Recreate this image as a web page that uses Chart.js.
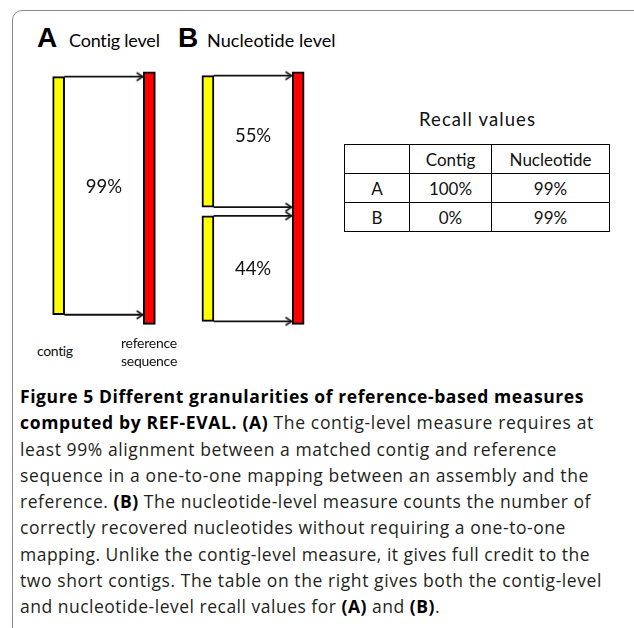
<!DOCTYPE html>
<html lang="en">
<head>
<meta charset="UTF-8">
<title>Figure 5 - reference-based measures</title>
<script src="https://cdn.jsdelivr.net/npm/chart.js@4"></script>
<style>
    html, body { margin: 0; padding: 0; width: 634px; height: 628px; overflow: hidden; background: #fff; }
    .abs { position: absolute; white-space: nowrap; }
    .frame { position: absolute; left: 12px; top: 10px; width: 700px; height: 700px;
             border: 1.5px solid #8a8a8a; border-radius: 10px; }
    .letter { font-family: "Liberation Sans", Arial, sans-serif; font-weight: bold; font-size: 28px; line-height: 28px; color: #000; }
    .lato { font-family: Lato, sans-serif; line-height: 1.2; color: #111; }
    #recall { position: absolute; left: 344px; top: 144px; border-collapse: collapse; table-layout: fixed;
              font-family: Lato, sans-serif; font-size: 17px; color: #111; }
    #recall td { border: 1.5px solid #000; text-align: center; height: 28px; padding: 0; }
    .cap { position: absolute; left: 20px; top: 383px; font-family: "Open Sans", sans-serif;
           font-size: 17.5px; line-height: 26.25px; color: #231f20; }
    .cap div { white-space: nowrap; }
    .cap span.fit { display: inline-block; }
    .cap b { font-weight: 700; color: #000; }
</style>
</head>
<body>

<div class="frame"></div>

<div class="abs letter" style="left:37px; top:24.3px;">A</div>
<div class="abs lato fit" data-w="91" style="left:69px; top:30.2px; font-size:18px; color:#000;">Contig level</div>
<div class="abs letter" style="left:178px; top:24.3px;">B</div>
<div class="abs lato fit" data-w="129" style="left:207px; top:30.2px; font-size:18px; color:#000;">Nucleotide level</div>

<canvas id="diagram" width="340" height="280" style="position:absolute; left:0; top:60px;"></canvas>

<div class="abs lato fit" data-w="36" style="left:37px; top:343.2px; font-size:14px;">contig</div>
<div class="abs lato fit" data-w="56" style="left:121px; top:335.2px; font-size:14px;">reference</div>
<div class="abs lato fit" data-w="56" style="left:121px; top:353.2px; font-size:14px;">sequence</div>

<div class="abs lato fit" data-w="117" style="left:419px; top:107.5px; font-size:18.5px;">Recall values</div>
<table id="recall"></table>

<div class="cap" id="caption"></div>

<script>
    // positions along the reference sequence (0 = top, 100 = bottom)
    const refA = [0, 100];
    const contigA = [1.9, 96.2];
    const refB = [0, 100];
    const contigB1 = [1.5, 53.6];
    const contigB2 = [57.0, 98.8];

    // horizontal track positions: contig A, reference A, contigs B, reference B
    const trackX = [54, 148.5, 209.5, 303.5];

    const pctLabels = ['99%', '55%', '44%'];
    const pctY = [45.5, 25.4, 78.1];

    // recall table
    const tableHead = ['', 'Contig', 'Nucleotide'];
    const tableRows = ['A', 'B'];
    const contigRecall = ['100%', '0%'];
    const nucleotideRecall = ['99%', '99%'];
    const colWidths = [65, 82, 118];

    const captionLines = [
        ['<b>Figure 5 Different granularities of reference-based measures</b>', 564],
        ['<b>computed by REF-EVAL. (A)</b> The contig-level measure requires at', 574],
        ['least 99% alignment between a matched contig and reference', 537],
        ['sequence in a one-to-one mapping between an assembly and the', 569],
        ['reference. <b>(B)</b> The nucleotide-level measure counts the number of', 571],
        ['correctly recovered nucleotides without requiring a one-to-one', 546],
        ['mapping. Unlike the contig-level measure, it gives full credit to the', 570],
        ['two short contigs. The table on the right gives both the contig-level', 582],
        ['and nucleotide-level recall values for <b>(A)</b> and <b>(B)</b>.', 420]
    ];

    // table
    const table = document.getElementById('recall');
    let html = '<colgroup>' + colWidths.map(w => `<col style="width:${w}px">`).join('') + '</colgroup>';
    html += '<tr>' + tableHead.map(h => `<td>${h}</td>`).join('') + '</tr>';
    tableRows.forEach((r, i) => {
        html += `<tr><td>${r}</td><td>${contigRecall[i]}</td><td>${nucleotideRecall[i]}</td></tr>`;
    });
    table.innerHTML = html;

    // caption
    document.getElementById('caption').innerHTML =
        captionLines.map(l => `<div><span class="fit" data-w="${l[1]}">${l[0]}</span></div>`).join('');

    function fitWidths() {
        document.querySelectorAll('.fit').forEach(el => {
            el.style.letterSpacing = '0px';
            const w = el.getBoundingClientRect().width;
            const n = el.textContent.length;
            el.style.letterSpacing = ((+el.dataset.w - w) / n) + 'px';
        });
    }

    // open arrow head used as point style
    const chevron = document.createElement('canvas');
    chevron.width = 16;
    chevron.height = 12;
    const cctx = chevron.getContext('2d');
    cctx.strokeStyle = '#111';
    cctx.lineWidth = 1.6;
    cctx.beginPath();
    cctx.moveTo(2, 2);
    cctx.lineTo(8, 6);
    cctx.lineTo(2, 10);
    cctx.stroke();

    const barW = 12;
    const contigs = [
        { track: 0, ref: 1, span: contigA },
        { track: 2, ref: 3, span: contigB1 },
        { track: 2, ref: 3, span: contigB2 }
    ];

    const arrowSets = [];
    contigs.forEach(c => {
        c.span.forEach(pos => {
            arrowSets.push({
                type: 'line',
                data: [
                    { x: trackX[c.track] + barW / 2, y: pos },
                    { x: trackX[c.ref] - barW / 2 - 1, y: pos }
                ],
                borderColor: '#111',
                borderWidth: 1.8,
                pointRadius: [0, 5],
                pointStyle: chevron,
                order: 1
            });
        });
    });

    const pctLabelPlugin = {
        id: 'pctLabels',
        afterDatasetsDraw(chart) {
            const { ctx, scales } = chart;
            ctx.save();
            ctx.font = '18.5px Lato';
            ctx.fillStyle = '#111';
            ctx.textAlign = 'center';
            ctx.textBaseline = 'middle';
            contigs.forEach((c, i) => {
                const x = scales.x.getPixelForValue((trackX[c.track] + trackX[c.ref]) / 2);
                const y = scales.y.getPixelForValue(pctY[i]);
                ctx.fillText(pctLabels[i], x, y);
            });
            ctx.restore();
        }
    };

    document.fonts.ready.then(() => {
        fitWidths();
        new Chart(document.getElementById('diagram'), {
            type: 'bar',
            data: {
                datasets: [{
                    type: 'bar',
                    data: [
                        { x: trackX[0], y: contigA },
                        { x: trackX[1], y: refA },
                        { x: trackX[2], y: contigB1 },
                        { x: trackX[2], y: contigB2 },
                        { x: trackX[3], y: refB }
                    ],
                    backgroundColor: ['#ffff00', '#ff0000', '#ffff00', '#ffff00', '#ff0000'],
                    borderColor: '#000',
                    borderWidth: 2,
                    borderSkipped: false,
                    barThickness: barW,
                    order: 2
                }, ...arrowSets]
            },
            options: {
                responsive: false,
                animation: false,
                events: [],
                layout: { padding: 0 },
                plugins: {
                    legend: { display: false },
                    tooltip: { enabled: false }
                },
                scales: {
                    x: { type: 'linear', min: 0, max: 340, offset: false, display: false },
                    y: { min: -2, max: 103.5, reverse: true, display: false }
                }
            },
            plugins: [pctLabelPlugin]
        });
    });
</script>

</body>
</html>
